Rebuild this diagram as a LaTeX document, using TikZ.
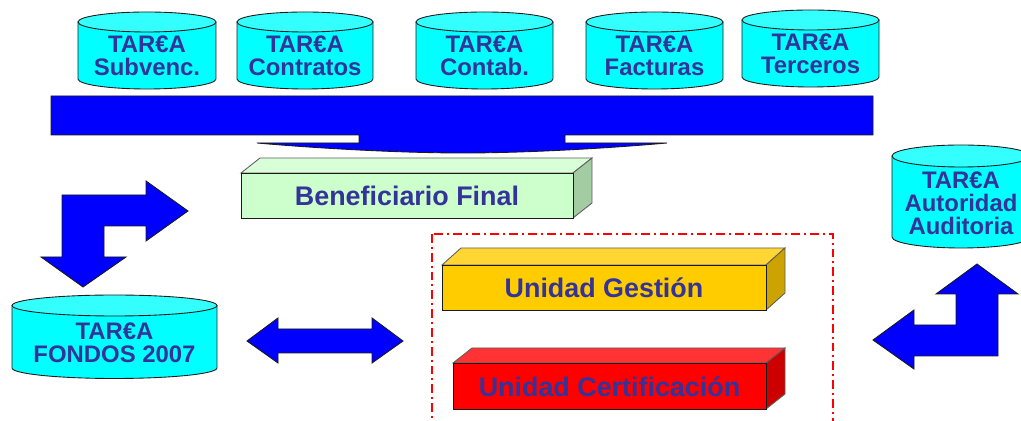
\documentclass[tikz,border=0pt]{standalone}
\usepackage{fontspec}
\setmainfont{Liberation Sans}
\usepackage{tikz}
\definecolor{TareaText}{HTML}{333399}
\definecolor{TareaCyan}{HTML}{00FFFF}
\definecolor{TareaCyanTop}{HTML}{33FFFF}
\definecolor{TareaBlue}{HTML}{0000FF}
\definecolor{TareaEdge}{HTML}{1A1A1A}
\definecolor{BenefFront}{HTML}{CCFFCC}
\definecolor{BenefTop}{HTML}{D9FFD9}
\definecolor{BenefSide}{HTML}{A3CCA3}
\definecolor{GestionFront}{HTML}{FFCC00}
\definecolor{GestionTop}{HTML}{FFD633}
\definecolor{GestionSide}{HTML}{CCA300}
\definecolor{CertifFront}{HTML}{FF0000}
\definecolor{CertifTop}{HTML}{FF3333}
\definecolor{CertifSide}{HTML}{CC0000}
\definecolor{CertifFrame}{HTML}{FF0000}

\tikzset{
  dbtext/.style={text=TareaText,align=center,font=\fontsize{13.6}{13}\selectfont\bfseries},
  blocktext/.style={text=TareaText,font=\fontsize{15.3}{16}\selectfont\bfseries},
  blockarrow/.style={fill=TareaBlue,draw=TareaEdge,line width=0.5pt,line join=miter},
}

% cx, half width, top y, bottom y, ellipse half height (all in px)
\newcommand{\tareacyl}[5]{%
  \filldraw[draw=TareaEdge,fill=TareaCyan,line width=0.5pt]
    ({#1-#2},#3) -- ({#1-#2},#4)
    arc[start angle=180,end angle=360,x radius={#2*0.2mm},y radius={#5*0.2mm}]
    -- ({#1+#2},#3) -- cycle;
  \filldraw[draw=TareaEdge,fill=TareaCyanTop,line width=0.5pt]
    (#1,#3) ellipse[x radius={#2*0.2mm},y radius={#5*0.2mm}];
}
% front corners x1,y1,x2,y2, depth dx,dy, colour prefix
\newcommand{\tareabox}[7]{%
  \filldraw[fill=#7Top,draw=TareaEdge!70,line width=0.5pt]
    (#1,#2) -- ({#1+#5},{#2+#6}) -- ({#3+#5},{#2+#6}) -- (#3,#2) -- cycle;
  \filldraw[fill=#7Side,draw=TareaEdge!70,line width=0.5pt]
    (#3,#2) -- ({#3+#5},{#2+#6}) -- ({#3+#5},{#4+#6}) -- (#3,#4) -- cycle;
  \filldraw[fill=#7Front,draw=TareaEdge,line width=0.5pt] (#1,#2) rectangle (#3,#4);
}

\begin{document}
\begin{tikzpicture}[x=0.02cm,y=-0.02cm]
  \useasboundingbox (0,0) rectangle (1021,421);
  \clip (0,0) rectangle (1021,421);

  \tareacyl{147}{69}{22}{79}{10}
  \tareacyl{305}{68}{22}{79}{10}
  \tareacyl{484.5}{68.5}{22}{79}{10}
  \tareacyl{654.5}{68.5}{22}{79}{10}
  \tareacyl{810.5}{68.5}{20}{77}{10}
  \node[dbtext] (subvenc) at (147,55.5) {TAR€A\\Subvenc.};
  \node[dbtext] (contratos) at (305,55.5) {TAR€A\\Contratos};
  \node[dbtext] (contab) at (484.5,55.5) {TAR€A\\Contab.};
  \node[dbtext] (facturas) at (654.5,55.5) {TAR€A\\Facturas};
  \node[dbtext] (terceros) at (810.5,54) {TAR€A\\Terceros};

  \draw[blockarrow] (51,96) -- (873,96) -- (873,135) -- (565,135) -- (565,143) -- (667,143)
    .. controls (600,149) and (520,153) .. (463,153)
    .. controls (406,153) and (325,149) .. (257,143)
    -- (359,143) -- (359,135) -- (51,135) -- cycle;

  \tareabox{241}{173}{573}{218}{19}{-15}{Benef}
  \node[blocktext] (benef) at (407,196) {Beneficiario Final};

  \draw[CertifFrame,line width=1.1pt,dash pattern=on 5pt off 2.3pt on 1.1pt off 2.3pt]
    (432,234) rectangle (833,440);
  \tareabox{442}{265}{766}{310}{19}{-17}{Gestion}
  \node[blocktext] (gestion) at (604,287.5) {Unidad Gestión};
  \tareabox{453}{363}{766}{409}{19}{-15}{Certif}
  \node[blocktext] (certif) at (609.5,386.5) {Unidad Certificación};

  \tareacyl{114.5}{102.5}{305.5}{368}{10.5}
  \node[dbtext] (fondos) at (114.5,342.5) {TAR€A\\FONDOS 2007};

  \tareacyl{961}{69}{156}{237}{11}
  \node[dbtext] (auditoria) at (961,203) {TAR€A\\Autoridad\\Auditoria};

  \draw[blockarrow] (62,195) -- (146,195) -- (146,181) -- (188,211) -- (146,241) -- (146,226)
    -- (104,226) -- (104,257) -- (126,257) -- (83,287) -- (41,257) -- (62,257) -- cycle;
  \draw[blockarrow] (247,341) -- (278,318) -- (278,329) -- (372,329) -- (372,318) -- (403,341)
    -- (372,363) -- (372,353) -- (278,353) -- (278,363) -- cycle;
  \draw[blockarrow] (873,340) -- (914,310) -- (914,325) -- (956,325) -- (956,294) -- (936,294)
    -- (977,264) -- (1018,294) -- (998,294) -- (998,356) -- (914,356) -- (914,369) -- cycle;
\end{tikzpicture}
\end{document}
